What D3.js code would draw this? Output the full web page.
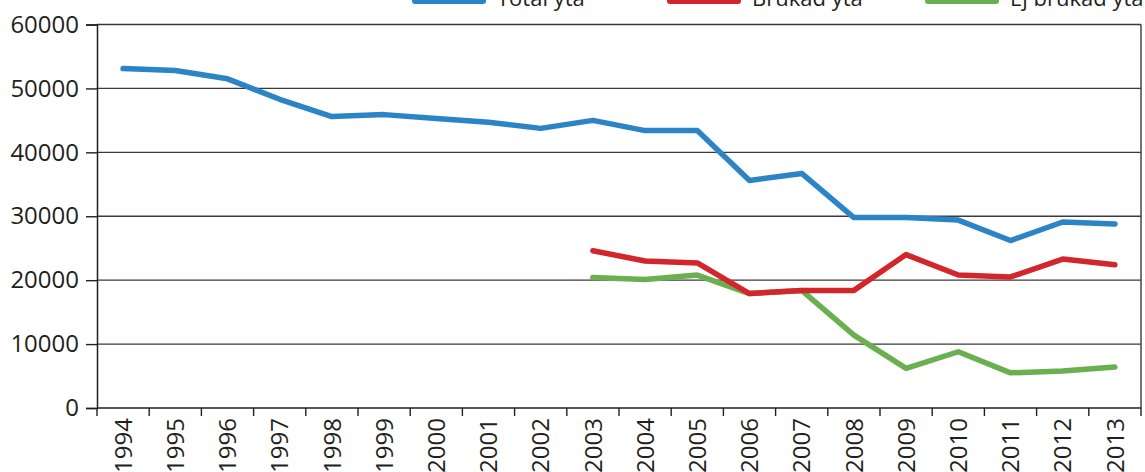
<!DOCTYPE html>
<html>
<head>
<meta charset="utf-8">
<script src="https://cdn.jsdelivr.net/npm/d3@7"></script>
<style>
  html, body { margin: 0; padding: 0; background: #fff; }
  svg { display: block; }
  text { font-family: "Open Sans", "Noto Sans", sans-serif; fill: #231f20; }
</style>
</head>
<body>
<svg id="chart" width="1145" height="472"></svg>
<script>
const years = ["1994","1995","1996","1997","1998","1999","2000","2001","2002","2003",
               "2004","2005","2006","2007","2008","2009","2010","2011","2012","2013"];
const totalYta = [53100, 52800, 51500, 48300, 45600, 45900, 45300, 44700, 43750, 45000,
                  43400, 43400, 35600, 36700, 29800, 29800, 29400, 26200, 29100, 28800];
const brukadYta = [null, null, null, null, null, null, null, null, null, 24600,
                   23000, 22700, 17900, 18400, 18400, 24000, 20800, 20500, 23300, 22400];
const ejBrukadYta = [null, null, null, null, null, null, null, null, null, 20400,
                     20100, 20800, 17900, 18400, 11400, 6200, 8800, 5500, 5800, 6400];
const yTicks = [0, 10000, 20000, 30000, 40000, 50000, 60000];
const seriesNames = ["Total yta", "Brukad yta", "Ej brukad yta"];
const seriesColors = ["#2a84c6", "#d4252c", "#6aaf50"];

const svg = d3.select("#chart");
const mLeft = 97, mRight = 1141, mTop = 24.5, mBottom = 408;

const x = d3.scaleBand().domain(years).range([mLeft, mRight]).padding(0);
const y = d3.scaleLinear().domain([0, 60000]).range([mBottom, mTop]);

// gridlines
svg.append("g").selectAll("line").data(yTicks.filter(d => d > 0)).join("line")
  .attr("x1", mLeft).attr("x2", mRight)
  .attr("y1", d => y(d)).attr("y2", d => y(d))
  .attr("stroke", "#3a3a3a").attr("stroke-width", 1.4);

// right frame
svg.append("line").attr("x1", mRight).attr("x2", mRight).attr("y1", mTop).attr("y2", mBottom)
  .attr("stroke", "#3a3a3a").attr("stroke-width", 1.4);

// y axis
const yAxis = d3.axisLeft(y).tickValues(yTicks).tickSize(11).tickPadding(7).tickFormat(d3.format("d"));
const gy = svg.append("g").attr("transform", `translate(${mLeft},0)`).call(yAxis);
gy.select(".domain").attr("stroke", "#231f20").attr("stroke-width", 1.5);
gy.selectAll(".tick line").attr("stroke", "#231f20").attr("stroke-width", 1.4);
gy.selectAll("text").style("font-size", "24px").attr("fill", "#231f20")
  .style("font-family", '"Open Sans", sans-serif');

// x axis with ticks at band boundaries
svg.append("line").attr("x1", mLeft).attr("x2", mRight).attr("y1", mBottom).attr("y2", mBottom)
  .attr("stroke", "#231f20").attr("stroke-width", 1.5);
const boundaries = years.map(d => x(d)).concat([mRight]);
svg.append("g").selectAll("line").data(boundaries).join("line")
  .attr("x1", d => d).attr("x2", d => d)
  .attr("y1", mBottom).attr("y2", mBottom + 8)
  .attr("stroke", "#231f20").attr("stroke-width", 1.4);
svg.append("g").selectAll("text").data(years).join("text")
  .attr("transform", d => `translate(${x(d) + x.bandwidth() / 2},418) rotate(-90)`)
  .attr("text-anchor", "end")
  .attr("dy", "0.36em")
  .style("font-size", "24px")
  .text(d => d);

// lines
const line = d3.line()
  .defined(d => d.v != null)
  .x(d => x(d.year) + x.bandwidth() / 2)
  .y(d => y(d.v));

const seriesData = [totalYta, ejBrukadYta, brukadYta];
const seriesCol = [seriesColors[0], seriesColors[2], seriesColors[1]];
seriesData.forEach((vals, i) => {
  svg.append("path")
    .datum(years.map((yr, j) => ({ year: yr, v: vals[j] })))
    .attr("fill", "none")
    .attr("stroke", seriesCol[i])
    .attr("stroke-width", 5.5)
    .attr("stroke-linejoin", "round")
    .attr("stroke-linecap", "round")
    .attr("d", line);
});

// legend (partly outside the top edge, as in the reference)
const legendX = [415, 670, 928];
const lg = svg.append("g");
seriesNames.forEach((name, i) => {
  lg.append("line")
    .attr("x1", legendX[i]).attr("x2", legendX[i] + 68)
    .attr("y1", 1).attr("y2", 1)
    .attr("stroke", seriesColors[i]).attr("stroke-width", 6)
    .attr("stroke-linecap", "round");
  lg.append("text")
    .attr("x", legendX[i] + 82).attr("y", 6)
    .style("font-size", "22px")
    .text(name);
});
</script>
</body>
</html>
